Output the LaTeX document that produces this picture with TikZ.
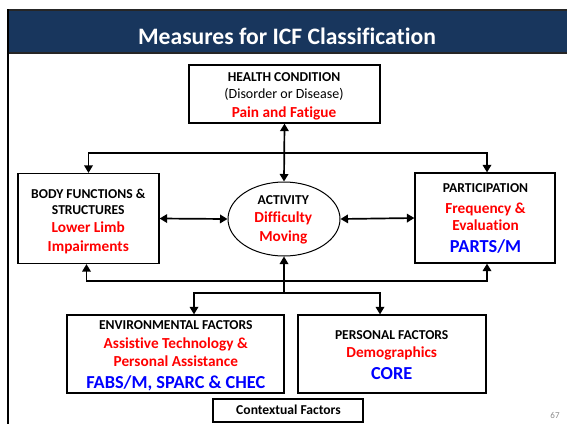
\documentclass[tikz,border=0pt]{standalone}
\usepackage{fontspec}
\setmainfont{Carlito}[Ligatures={NoCommon}]
\usetikzlibrary{arrows.meta,shapes.geometric}
\definecolor{navy}{RGB}{24,54,93}
\definecolor{redtxt}{RGB}{255,0,0}
\definecolor{bluetxt}{RGB}{0,0,255}
\definecolor{pagegray}{RGB}{140,140,140}
\begin{document}
\begin{tikzpicture}[x=1pt,y=-1pt,
  box/.style={draw=black, line width=1.2pt, fill=white, inner sep=0pt, minimum width=#1},
  oval/.style={draw=black, line width=1pt, fill=white, ellipse, inner sep=0pt},
  txt/.style={inner sep=0pt, text depth=0pt, anchor=center},
  hd/.style={txt, text height=8.7pt, font=\fontsize{13.6}{16}\selectfont\bfseries, text=black},
  rg/.style={txt, text height=9pt, font=\fontsize{14}{16}\selectfont, text=black},
  rd/.style={txt, text height=9.85pt, font=\fontsize{15.3}{18}\selectfont\bfseries, text=redtxt},
  bl/.style={txt, text height=11.8pt, font=\fontsize{18.3}{20}\selectfont\bfseries, text=bluetxt},
  tip/.style={-{Triangle[length=7.5pt,width=8.5pt]}},
  duo/.style={{Triangle[length=7.5pt,width=8.5pt]}-{Triangle[length=7.5pt,width=8.5pt]}},
  con/.style={line width=1.7pt, black}]
\useasboundingbox (0,0) rectangle (567,424);
\fill[white] (0,0) rectangle (567,424);
% title band
\fill[navy] (7,10) rectangle (567,53);
\draw[line width=2pt, black!85] (7,10) -- (567,10);
\draw[line width=1.6pt, black!85] (7,52.8) -- (567,52.8);
\draw[line width=2.4pt, black] (8.2,9) -- (8.2,424);
\node[txt, text height=15.1pt, font=\fontsize{23.6}{26}\selectfont\bfseries, text=white] (title) at (287,36.5) {Measures for ICF Classification};
% boxes
\node[box=191pt, minimum height=58pt] (health) at (284.5,94) {};
\node[box=141pt, minimum height=90pt] (body) at (88.5,218.5) {};
\node[box=140pt, minimum height=90pt] (part) at (485,218) {};
\node[oval, minimum width=112pt, minimum height=74pt] (act) at (284,219) {};
\node[box=217pt, minimum height=78pt] (env) at (175.5,354) {};
\node[box=188pt, minimum height=78pt] (pers) at (392,354) {};
\node[box=150pt, minimum height=23pt] (ctx) at (288,410.5) {};
% texts
\node[hd] (h1) at (284,77) {HEALTH CONDITION};
\node[rg] (h2) at (284,94) {(Disorder or Disease)};
\node[rd] (h3) at (284,112.5) {Pain and Fatigue};
\node[hd] (b1) at (88.3,193.7) {BODY FUNCTIONS \&};
\node[hd] (b2) at (88.3,210) {STRUCTURES};
\node[rd] (b3) at (88.3,228) {Lower Limb};
\node[rd] (b4) at (88.3,246.8) {Impairments};
\node[hd] (p1) at (485.5,188.5) {PARTICIPATION};
\node[rd] (p2) at (485.5,208.2) {Frequency \&};
\node[rd] (p3) at (485.5,225.5) {Evaluation};
\node[bl] (p4) at (485.5,246.8) {PARTS/M};
\node[hd] (a1) at (283.3,200.5) {ACTIVITY};
\node[rd] (a2) at (283.3,218) {Difficulty};
\node[rd] (a3) at (283.3,236.3) {Moving};
\node[hd] (e1) at (175.8,324.8) {ENVIRONMENTAL FACTORS};
\node[rd] (e2) at (175.8,343.8) {Assistive Technology \&};
\node[rd] (e3) at (175.8,361.5) {Personal Assistance};
\node[bl] (e4) at (175.8,382.7) {FABS/M, SPARC \& CHEC};
\node[hd] (s1) at (391.7,335) {PERSONAL FACTORS};
\node[rd] (s2) at (391.7,352.8) {Demographics};
\node[bl] (s3) at (391.7,373.5) {CORE};
\node[hd] (c1) at (288.5,410.5) {Contextual Factors};
\node[txt, text height=5.8pt, font=\fontsize{9}{10}\selectfont, text=pagegray] (pg) at (555,415.5) {67};
% junctions
\coordinate (tj) at (284,153);
\coordinate (mj) at (284,281);
\coordinate (bj) at (284,293);
% connectors
\draw[con, duo] (health.south) -- (act.north);
\draw[con, tip] (tj) -| (body.north);
\draw[con, tip] (tj) -| ([xshift=2pt]part.north);
\draw[con, duo] (body.east) -- (act.west);
\draw[con, duo] (act.east) -- (part.west);
\draw[con, tip] (bj) -- (act.south);
\draw[con, duo] ([xshift=-2pt]body.south) |- (mj) -| ([xshift=2pt]part.south);
\draw[con, tip] (bj) -| ([xshift=18.5pt]env.north);
\draw[con, tip] (bj) -| ([xshift=-12pt]pers.north);
\end{tikzpicture}
\end{document}
